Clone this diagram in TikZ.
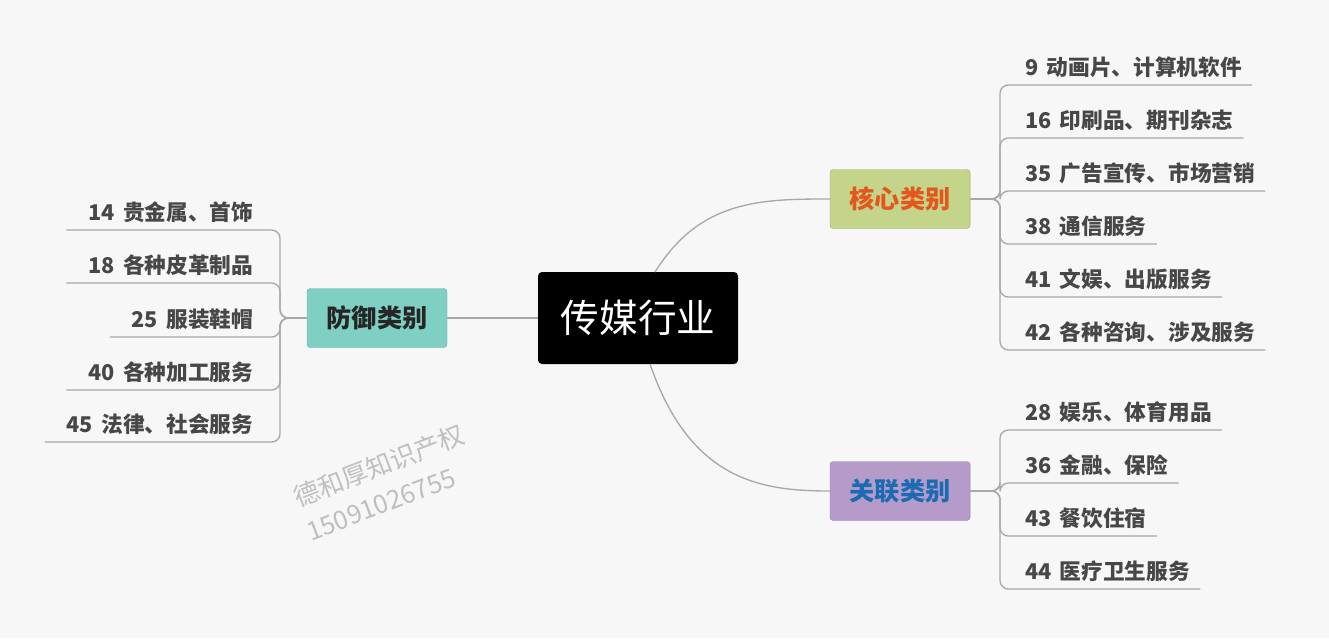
\documentclass[tikz,border=0pt]{standalone}
\usepackage{fontspec}
\setmainfont{Noto Sans CJK SC}
\usetikzlibrary{positioning}
\definecolor{bgcol}{HTML}{F7F7F7}
\definecolor{linecol}{HTML}{A8A8A8}
\definecolor{leafcol}{HTML}{474747}
\definecolor{hxfill}{HTML}{C4D48B}
\definecolor{fyfill}{HTML}{7FD0C3}
\definecolor{glfill}{HTML}{B49BCA}
\definecolor{hxtext}{HTML}{E4561C}
\definecolor{gltext}{HTML}{1B6BB2}
\tikzset{
  conn/.style={draw=linecol, line width=0.04cm, rounded corners=0.25cm},
  catbox/.style={rounded corners=0.1cm, minimum width=4.2cm, minimum height=1.77cm,
    font=\fontsize{21.5}{24}\selectfont\bfseries},
  rleaf/.style={anchor=south west, inner sep=0pt, text depth=0.28cm,
    font=\fontsize{18.5}{21}\selectfont\bfseries, text=leafcol},
  lleaf/.style={anchor=south east, inner sep=0pt, text depth=0.28cm,
    font=\fontsize{18.5}{21}\selectfont\bfseries, text=leafcol}
}
\newcommand{\rleaftext}[2]{\kern0.75cm#1\kern0.25cm#2\kern0.3cm}
\newcommand{\lleaftext}[2]{\kern0.65cm#1\kern0.25cm#2\kern0.8cm}
\begin{document}
\begin{tikzpicture}[x=0.03cm, y=-0.03cm]
    % background
    \fill[bgcol] (0,0) rectangle (1329,638);
    \useasboundingbox (0,0) rectangle (1329,638);

    % center and categories
    \node[fill=black, rounded corners=0.12cm, minimum width=6cm, minimum height=2.76cm,
      text=white, font=\fontsize{33}{36}\selectfont] (center) at (638,318) {传媒行业};
    \node[catbox, fill=hxfill, draw=hxfill!80!black, text=hxtext] (hx) at (900,199) {核心类别};
    \node[catbox, fill=fyfill, draw=fyfill!85!black, text=black!85] (fy) at (377,318) {防御类别};
    \node[catbox, fill=glfill, draw=glfill!85!black, text=gltext] (gl) at (900,491) {关联类别};

    \draw[conn] (center.west) -- (fy.east);
    \draw[conn] (655,272) .. controls (700,200) and (760,199) .. (hx.west);
    \draw[conn] (650,364) .. controls (690,480) and (760,491) .. (gl.west);

    % core leaves
    \node[rleaf] (r1) at (1000,85) {\rleaftext{9}{动画片、计算机软件}};
    \node[rleaf] (r2) at (1000,138) {\rleaftext{16}{印刷品、期刊杂志}};
    \node[rleaf] (r3) at (1000,191) {\rleaftext{35}{广告宣传、市场营销}};
    \node[rleaf] (r4) at (1000,244) {\rleaftext{38}{通信服务}};
    \node[rleaf] (r5) at (1000,297) {\rleaftext{41}{文娱、出版服务}};
    \node[rleaf] (r6) at (1000,350) {\rleaftext{42}{各种咨询、涉及服务}};
    \foreach \i in {r1,r2,r3,r4,r5,r6} {
        \draw[conn] (hx.east) -| (\i.south west) -- (\i.south east);
    }

    % related leaves
    \node[rleaf] (g1) at (1000,430) {\rleaftext{28}{娱乐、体育用品}};
    \node[rleaf] (g2) at (1000,483) {\rleaftext{36}{金融、保险}};
    \node[rleaf] (g3) at (1000,536) {\rleaftext{43}{餐饮住宿}};
    \node[rleaf] (g4) at (1000,589) {\rleaftext{44}{医疗卫生服务}};
    \foreach \i in {g1,g2,g3,g4} {
        \draw[conn] (gl.east) -| (\i.south west) -- (\i.south east);
    }

    % defence leaves
    \node[lleaf] (l1) at (280,230) {\lleaftext{14}{贵金属、首饰}};
    \node[lleaf] (l2) at (280,283) {\lleaftext{18}{各种皮革制品}};
    \node[lleaf] (l3) at (280,337) {\lleaftext{25}{服装鞋帽}};
    \node[lleaf] (l4) at (280,390) {\lleaftext{40}{各种加工服务}};
    \node[lleaf] (l5) at (280,442) {\lleaftext{45}{法律、社会服务}};
    \foreach \i in {l1,l2,l3,l4,l5} {
        \draw[conn] (fy.west) -| (\i.south east) -- (\i.south west);
    }

    % watermark
    \node[rotate=21, text=black!25, align=left, font=\fontsize{22}{31}\selectfont]
      (mark) at (385,482) {德和厚知识产权\\15091026755};
\end{tikzpicture}
\end{document}
